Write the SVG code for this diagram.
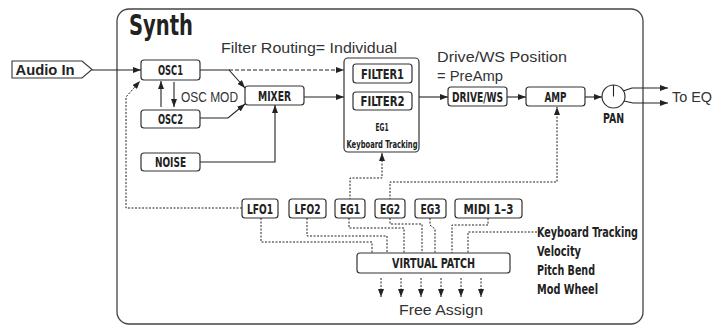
<svg xmlns="http://www.w3.org/2000/svg" width="720" height="325" viewBox="0 0 720 325">
<style>
.bx{fill:#fff;stroke:#333;stroke-width:1.2}
.lb{font-family:"Liberation Sans Narrow","DejaVu Sans Condensed","Liberation Sans",sans-serif;font-weight:bold;font-stretch:condensed;font-size:14px;text-anchor:middle;fill:#222}
.sm{font-size:11px}
.tx{font-family:"Liberation Sans",Arial,sans-serif;font-size:14px;fill:#333}
.ln{fill:none;stroke:#222;stroke-width:1.1}
.ds{fill:none;stroke:#222;stroke-width:1.1;stroke-dasharray:4 2}
.dt{fill:none;stroke:#222;stroke-width:1;stroke-dasharray:2 1.5}
</style>
<defs>
<marker id="ah" viewBox="0 0 8 6" refX="8" refY="3" markerWidth="8" markerHeight="6" orient="auto" markerUnits="userSpaceOnUse"><path d="M0,0 L8,3 L0,6z" fill="#222"/></marker>
</defs>
<rect id="frame" x="117" y="9" width="526" height="315" rx="12" fill="none" stroke="#444" stroke-width="1.3"/>
<text x="129" y="35" class="lb" style="font-size:29px;text-anchor:start" textLength="64" lengthAdjust="spacingAndGlyphs">Synth</text>
<text x="221" y="53" class="tx" textLength="176" lengthAdjust="spacingAndGlyphs">Filter Routing= Individual</text>
<text x="437" y="62" class="tx" textLength="130" lengthAdjust="spacingAndGlyphs">Drive/WS Position</text>
<text x="437" y="81" class="tx" textLength="66" lengthAdjust="spacingAndGlyphs">= PreAmp</text>
<text x="181" y="102" class="tx" textLength="57" lengthAdjust="spacingAndGlyphs">OSC MOD</text>
<text x="672" y="102" class="tx" style="font-size:15px" textLength="40" lengthAdjust="spacingAndGlyphs">To EQ</text>
<text x="441" y="315" class="tx" style="font-size:15px;text-anchor:middle" textLength="84" lengthAdjust="spacingAndGlyphs">Free Assign</text>

<g id="connectors">
<path class="ln" d="M92,70 H141" marker-end="url(#ah)"/>
<path class="ln" d="M200,70 H229 L245,88" marker-end="url(#ah)"/>
<path class="ds" d="M229,70 H344" marker-end="url(#ah)"/>
<path class="ln" d="M200,118 H228 L245,104" marker-end="url(#ah)"/>
<path class="ln" d="M200,162 H275 V105" marker-end="url(#ah)"/>
<path class="ln" d="M161,107 V81" marker-end="url(#ah)"/>
<path class="ln" d="M174,82 V107" marker-end="url(#ah)"/>
<path class="ln" d="M304,97 H344" marker-end="url(#ah)"/>
<path class="ln" d="M419,97 H448" marker-end="url(#ah)"/>
<path class="ln" d="M507,97 H526" marker-end="url(#ah)"/>
<path class="ln" d="M585,97 H602" marker-end="url(#ah)"/>
<path class="ln" d="M623,91 L632,88 H668" marker-end="url(#ah)"/>
<path class="ln" d="M624,101 L633,103 H668" marker-end="url(#ah)"/>
<path class="ln" d="M382,120 V111" marker-end="url(#ah)"/>
<path class="dt" d="M242,208 H126 V97 L140,81" marker-end="url(#ah)"/>
<path class="dt" d="M350,200 V178 H382 V153" marker-end="url(#ah)"/>
<path class="dt" d="M390,200 V182 H557 V107" marker-end="url(#ah)"/>
<path class="dt" d="M261,218 V242 H372 V253"/>
<path class="dt" d="M307,218 V236 H387 V253"/>
<path class="dt" d="M349,218 V228 H404 V253"/>
<path class="dt" d="M390,218 V224 H422 V253"/>
<path class="dt" d="M430,218 V225 L435,229 V253"/>
<path class="dt" d="M488,218 V225 H452 V253"/>
<path class="dt" d="M537,232 H468 V253"/>
<path class="dt" d="M381,278 V297" marker-end="url(#ah)"/>
<path class="dt" d="M401,278 V297" marker-end="url(#ah)"/>
<path class="dt" d="M421,278 V297" marker-end="url(#ah)"/>
<path class="dt" d="M441,278 V297" marker-end="url(#ah)"/>
<path class="dt" d="M461,278 V297" marker-end="url(#ah)"/>
<path class="dt" d="M481,278 V297" marker-end="url(#ah)"/>
</g>

<g id="audio-in">
<polygon points="12,61 82,61 92,69.5 82,78 12,78" fill="#fff" stroke="#333" stroke-width="1.1"/>
<text x="45" y="75" class="lb" style="font-family:'Liberation Sans',Arial,sans-serif;font-stretch:normal;font-size:14px" textLength="59" lengthAdjust="spacingAndGlyphs">Audio In</text>
</g>
<g id="osc1"><rect class="bx" x="141" y="60" width="59" height="20" rx="3"/><text x="170.5" y="75" class="lb" textLength="25" lengthAdjust="spacingAndGlyphs">OSC1</text></g>
<g id="osc2"><rect class="bx" x="141" y="110" width="59" height="18" rx="3"/><text x="170.5" y="124" class="lb" textLength="25" lengthAdjust="spacingAndGlyphs">OSC2</text></g>
<g id="noise"><rect class="bx" x="141" y="153" width="59" height="18" rx="3"/><text x="170.5" y="167" class="lb" textLength="31" lengthAdjust="spacingAndGlyphs">NOISE</text></g>
<g id="mixer"><rect class="bx" x="245" y="86" width="59" height="19" rx="3"/><text x="274.5" y="100.5" class="lb" textLength="33" lengthAdjust="spacingAndGlyphs">MIXER</text></g>
<g id="filter">
<rect class="bx" x="344" y="58" width="75" height="94" rx="4"/>
<rect class="bx" x="353" y="64" width="59" height="19" rx="3"/><text x="382.5" y="78.5" class="lb" textLength="43" lengthAdjust="spacingAndGlyphs">FILTER1</text>
<rect class="bx" x="353" y="92" width="59" height="18" rx="3"/><text x="382.5" y="106" class="lb" textLength="44" lengthAdjust="spacingAndGlyphs">FILTER2</text>
<text x="382" y="131" class="lb sm" textLength="13" lengthAdjust="spacingAndGlyphs">EG1</text>
<text x="382" y="148" class="lb sm" textLength="71" lengthAdjust="spacingAndGlyphs">Keyboard Tracking</text>
</g>
<g id="drive"><rect class="bx" x="448" y="87" width="59" height="19" rx="3"/><text x="477.5" y="101.5" class="lb" textLength="51" lengthAdjust="spacingAndGlyphs">DRIVE/WS</text></g>
<g id="amp"><rect class="bx" x="526" y="87" width="59" height="19" rx="3"/><text x="555.5" y="101.5" class="lb" textLength="22" lengthAdjust="spacingAndGlyphs">AMP</text></g>
<g id="pan"><circle cx="613.5" cy="96.5" r="11.5" fill="#fff" stroke="#333" stroke-width="1.2"/><path d="M613.5,96.5 V85" stroke="#222" stroke-width="1.1"/><text x="613.5" y="123" class="lb" textLength="21" lengthAdjust="spacingAndGlyphs">PAN</text></g>
<g id="lfo1"><rect class="bx" x="242" y="199" width="36" height="19" rx="3"/><text x="260" y="213.5" class="lb" textLength="26" lengthAdjust="spacingAndGlyphs">LFO1</text></g>
<g id="lfo2"><rect class="bx" x="289" y="199" width="37" height="19" rx="3"/><text x="307.5" y="213.5" class="lb" textLength="26" lengthAdjust="spacingAndGlyphs">LFO2</text></g>
<g id="eg1"><rect class="bx" x="335" y="199" width="30" height="19" rx="3"/><text x="350" y="213.5" class="lb" textLength="20" lengthAdjust="spacingAndGlyphs">EG1</text></g>
<g id="eg2"><rect class="bx" x="375" y="199" width="30" height="19" rx="3"/><text x="390" y="213.5" class="lb" textLength="20" lengthAdjust="spacingAndGlyphs">EG2</text></g>
<g id="eg3"><rect class="bx" x="415" y="199" width="31" height="19" rx="3"/><text x="430.5" y="213.5" class="lb" textLength="20" lengthAdjust="spacingAndGlyphs">EG3</text></g>
<g id="midi"><rect class="bx" x="455" y="199" width="67" height="19" rx="3"/><text x="488.5" y="213.5" class="lb" textLength="50" lengthAdjust="spacingAndGlyphs">MIDI 1–3</text></g>
<g id="virtual-patch"><rect class="bx" x="357" y="253" width="153" height="20" rx="3"/><text x="433.5" y="268" class="lb" textLength="83" lengthAdjust="spacingAndGlyphs">VIRTUAL PATCH</text></g>
<g id="midi-sources">
<text x="537" y="237" class="lb" style="text-anchor:start" textLength="101" lengthAdjust="spacingAndGlyphs">Keyboard Tracking</text>
<text x="537" y="256" class="lb" style="text-anchor:start" textLength="44" lengthAdjust="spacingAndGlyphs">Velocity</text>
<text x="537" y="275" class="lb" style="text-anchor:start" textLength="58" lengthAdjust="spacingAndGlyphs">Pitch Bend</text>
<text x="537" y="294" class="lb" style="text-anchor:start" textLength="61" lengthAdjust="spacingAndGlyphs">Mod Wheel</text>
</g>
</svg>
